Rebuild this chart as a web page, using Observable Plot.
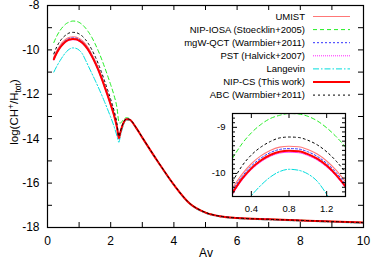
<!DOCTYPE html>
<html><head><meta charset="utf-8">
<script src="https://cdn.jsdelivr.net/npm/d3@7"></script>
<script src="https://cdn.jsdelivr.net/npm/@observablehq/plot@0.6"></script>
<style>
body{margin:0;background:#fff}
#chart{position:relative;width:374px;height:260px;font-family:'Liberation Sans',Arial,sans-serif}
</style>
</head><body><div id="chart"></div>
<script>
// ---- data ----
const av = [0.2,0.3,0.4,0.5,0.6,0.7,0.8,0.9,1.0,1.1,1.2,1.3,1.4,1.5,1.6,1.7,1.8,1.9,2.0,2.1,2.2,2.26,2.3,2.4,2.5,2.6,2.8,3.0,3.5,4.0,4.5,5.0,5.5,6,7,8,9,10];
const umist   = [-10.32,-10.02,-9.79,-9.62,-9.50,-9.43,-9.41,-9.42,-9.48,-9.58,-9.73,-9.93,-10.18,-10.46,-10.78,-11.15,-11.55,-11.97,-12.41,-12.87,-13.47,-13.96,-13.74,-13.30,-13.12,-13.14,-13.50,-13.95,-15.05,-16.08,-16.92,-17.33,-17.50,-17.57,-17.63,-17.68,-17.73,-17.78];
const nipIosa = [-9.67,-9.36,-9.12,-8.94,-8.81,-8.74,-8.70,-8.71,-8.76,-8.86,-9.01,-9.20,-9.43,-9.71,-10.02,-10.37,-10.75,-11.15,-11.57,-12.02,-12.62,-13.25,-13.30,-13.15,-13.05,-13.10,-13.47,-13.93,-15.03,-16.06,-16.90,-17.31,-17.49,-17.56,-17.62,-17.67,-17.72,-17.77];
const mgwQct  = [-10.37,-10.07,-9.84,-9.67,-9.55,-9.48,-9.46,-9.47,-9.53,-9.63,-9.78,-9.98,-10.23,-10.51,-10.83,-11.19,-11.59,-12.00,-12.43,-12.89,-13.48,-13.97,-13.75,-13.30,-13.12,-13.14,-13.50,-13.95,-15.05,-16.08,-16.92,-17.33,-17.50,-17.57,-17.63,-17.68,-17.73,-17.78];
const pst     = [-10.45,-10.15,-9.92,-9.75,-9.63,-9.56,-9.54,-9.55,-9.61,-9.71,-9.86,-10.06,-10.31,-10.59,-10.91,-11.27,-11.66,-12.07,-12.50,-12.95,-13.52,-13.99,-13.76,-13.30,-13.12,-13.14,-13.50,-13.95,-15.05,-16.08,-16.92,-17.33,-17.50,-17.57,-17.63,-17.68,-17.73,-17.78];
const langevin= [-11.00,-10.72,-10.48,-10.26,-10.08,-9.96,-9.91,-9.93,-10.01,-10.17,-10.45,-10.75,-11.05,-11.35,-11.66,-11.98,-12.32,-12.67,-13.03,-13.42,-13.88,-14.16,-13.92,-13.40,-13.16,-13.17,-13.53,-13.98,-15.08,-16.11,-16.95,-17.36,-17.53,-17.60,-17.66,-17.71,-17.76,-17.81];
const nipCs   = [-10.42,-10.12,-9.89,-9.72,-9.60,-9.53,-9.51,-9.52,-9.58,-9.68,-9.83,-10.03,-10.28,-10.56,-10.88,-11.24,-11.63,-12.04,-12.47,-12.92,-13.50,-13.98,-13.75,-13.30,-13.12,-13.14,-13.50,-13.95,-15.05,-16.08,-16.92,-17.33,-17.50,-17.57,-17.63,-17.68,-17.73,-17.78];
const abc     = [-10.18,-9.84,-9.60,-9.43,-9.31,-9.23,-9.21,-9.22,-9.28,-9.38,-9.53,-9.73,-9.98,-10.27,-10.60,-10.97,-11.37,-11.79,-12.23,-12.70,-13.32,-13.90,-13.70,-13.28,-13.10,-13.13,-13.49,-13.94,-15.04,-16.07,-16.91,-17.32,-17.50,-17.57,-17.63,-17.68,-17.73,-17.78];

const seriesNames = ["UMIST","NIP-IOSA (Stoecklin+2005)","mgW-QCT (Warmbier+2011)","PST (Halvick+2007)","Langevin","NIP-CS (This work)","ABC (Warmbier+2011)"];
const seriesValues = [umist, nipIosa, mgwQct, pst, langevin, nipCs, abc];

const xTickLabels = [0,2,4,6,8,10];
const yTickLabels = [-18,-16,-14,-12,-10,-8];
const xMinorTicks = [1,2,3,4,5,6,7,8,9];
const yMinorTicks = [-17,-16,-15,-14,-13,-12,-11,-10,-9];
const insetXTicks = [0.4,0.8,1.2];
const insetYTicks = [-10,-9];
const insetYMinor = [-10.4,-10.3,-10.2,-10.1,-9.9,-9.8,-9.7,-9.6,-9.5,-9.4,-9.3,-9.2,-9.1,-8.9,-8.8];

// ---- styles ----
const seriesStyle = [
  {color:"#ff7777", width:1.1, dash:null},
  {color:"#22ee22", width:1, dash:"4,3"},
  {color:"#3030ff", width:1, dash:"2,2"},
  {color:"#ff22ff", width:1, dash:"1,1"},
  {color:"#00dddd", width:1, dash:"6,2,1.5,2"},
  {color:"#ff0000", width:2, dash:null},
  {color:"#000000", width:1, dash:"2,3"}
];
const series = seriesNames.map((name,k)=>({name, ...seriesStyle[k], rows: av.map((a,i)=>({av:a, v:seriesValues[k][i], name}))}));

const FONT = "'Liberation Sans', Arial, Helvetica, sans-serif";
const W = 374, H = 260, mT = 5, mR = 11, mB = 33, mL = 47;
const iW = W - mL - mR, iH = H - mT - mB;

const lineMarks = (clip) => series.map(s => Plot.line(s.rows, {x:"av", y:"v", stroke:s.color, strokeWidth:s.width, strokeDasharray:s.dash, curve:"monotone-x", clip}));

const main = Plot.plot({
  width: W, height: H, marginTop: mT, marginRight: mR, marginBottom: mB, marginLeft: mL,
  x: {domain:[0,10], label:null},
  y: {domain:[-18,-8], label:null},
  style: {fontFamily: FONT, fontSize: "12px", color: "black", background: "white", overflow: "visible"},
  marks: [
    ...lineMarks(true),
    Plot.tickX(xMinorTicks, {x: d=>d, insetTop: iH-5, stroke:"black"}),
    Plot.tickX(xMinorTicks, {x: d=>d, insetBottom: iH-5, stroke:"black"}),
    Plot.tickY(yMinorTicks, {y: d=>d, insetRight: iW-5, stroke:"black"}),
    Plot.tickY(yMinorTicks, {y: d=>d, insetLeft: iW-5, stroke:"black"}),
    Plot.axisX(xTickLabels, {tickSize:0, tickPadding:9, fontSize:12, label:null, tickFormat: d=>String(d)}),
    Plot.axisY(yTickLabels, {tickSize:0, tickPadding:8, fontSize:12, label:null, tickFormat: d=>String(d)}),
    Plot.frame({stroke:"black", strokeWidth:1.2})
  ]
});

const svg = d3.select(main);
// axis titles
svg.append("text").attr("x", 206).attr("y", 257).attr("text-anchor","middle")
  .attr("font-family", FONT).attr("font-size", 12).attr("fill","black").text("Av");
const yt = svg.append("text").attr("transform","translate(18,112) rotate(-90)").attr("text-anchor","middle")
  .attr("font-family", FONT).attr("font-size", 11.5).attr("fill","black");
yt.append("tspan").text("log(CH");
yt.append("tspan").attr("dy",-4).attr("font-size",8.5).text("+");
yt.append("tspan").attr("dy",4).text("/H");
yt.append("tspan").attr("dy",3).attr("font-size",8.5).text("tot");
yt.append("tspan").attr("dy",-3).text(")");

// legend
const lg = svg.append("g").attr("font-family", FONT).attr("font-size", 9.5);
series.forEach((s,i)=>{
  const y = 16.5 + i*13.1;
  lg.append("text").attr("x",305).attr("y",y).attr("dy","0.35em").attr("text-anchor","end").attr("fill","black").text(s.name);
  lg.append("line").attr("x1",313).attr("x2",350).attr("y1",y).attr("y2",y)
    .attr("stroke",s.color).attr("stroke-width",s.width).attr("stroke-dasharray",s.dash);
});

// inset
const IW = 141, IH = 105, imT = 2, imR = 2, imB = 20, imL = 26;
const iiW = IW - imL - imR, iiH = IH - imT - imB;
const inset = Plot.plot({
  width: IW, height: IH, marginTop: imT, marginRight: imR, marginBottom: imB, marginLeft: imL,
  x: {domain:[0.2,1.4], label:null},
  y: {domain:[-10.5,-8.7], label:null},
  style: {fontFamily: FONT, fontSize: "9.5px", color: "black", background: "transparent", overflow: "visible"},
  marks: [
    ...lineMarks(true),
    Plot.tickX(insetXTicks, {x: d=>d, insetTop: iiH-5, stroke:"black"}),
    Plot.tickX(insetXTicks, {x: d=>d, insetBottom: iiH-5, stroke:"black"}),
    Plot.tickY(insetYTicks, {y: d=>d, insetRight: iiW-5, stroke:"black"}),
    Plot.tickY(insetYTicks, {y: d=>d, insetLeft: iiW-5, stroke:"black"}),
    Plot.tickY(insetYMinor, {y: d=>d, insetRight: iiW-3, stroke:"black"}),
    Plot.tickY(insetYMinor, {y: d=>d, insetLeft: iiW-3, stroke:"black"}),
    Plot.axisX(insetXTicks, {tickSize:0, tickPadding:9, fontSize:9.5, label:null, tickFormat: d=>d.toFixed(1)}),
    Plot.axisY(insetYTicks, {tickSize:0, tickPadding:7, fontSize:9.5, label:null, tickFormat: d=>String(d)}),
    Plot.frame({stroke:"black", strokeWidth:1.2})
  ]
});
inset.style.position = "absolute";
inset.style.left = "206px";
inset.style.top = "111px";
inset.style.maxWidth = "none";

const chart = document.getElementById("chart");
main.style.position = "absolute"; main.style.left = "0"; main.style.top = "0";
chart.appendChild(main);
chart.appendChild(inset);
</script>
</body></html>
